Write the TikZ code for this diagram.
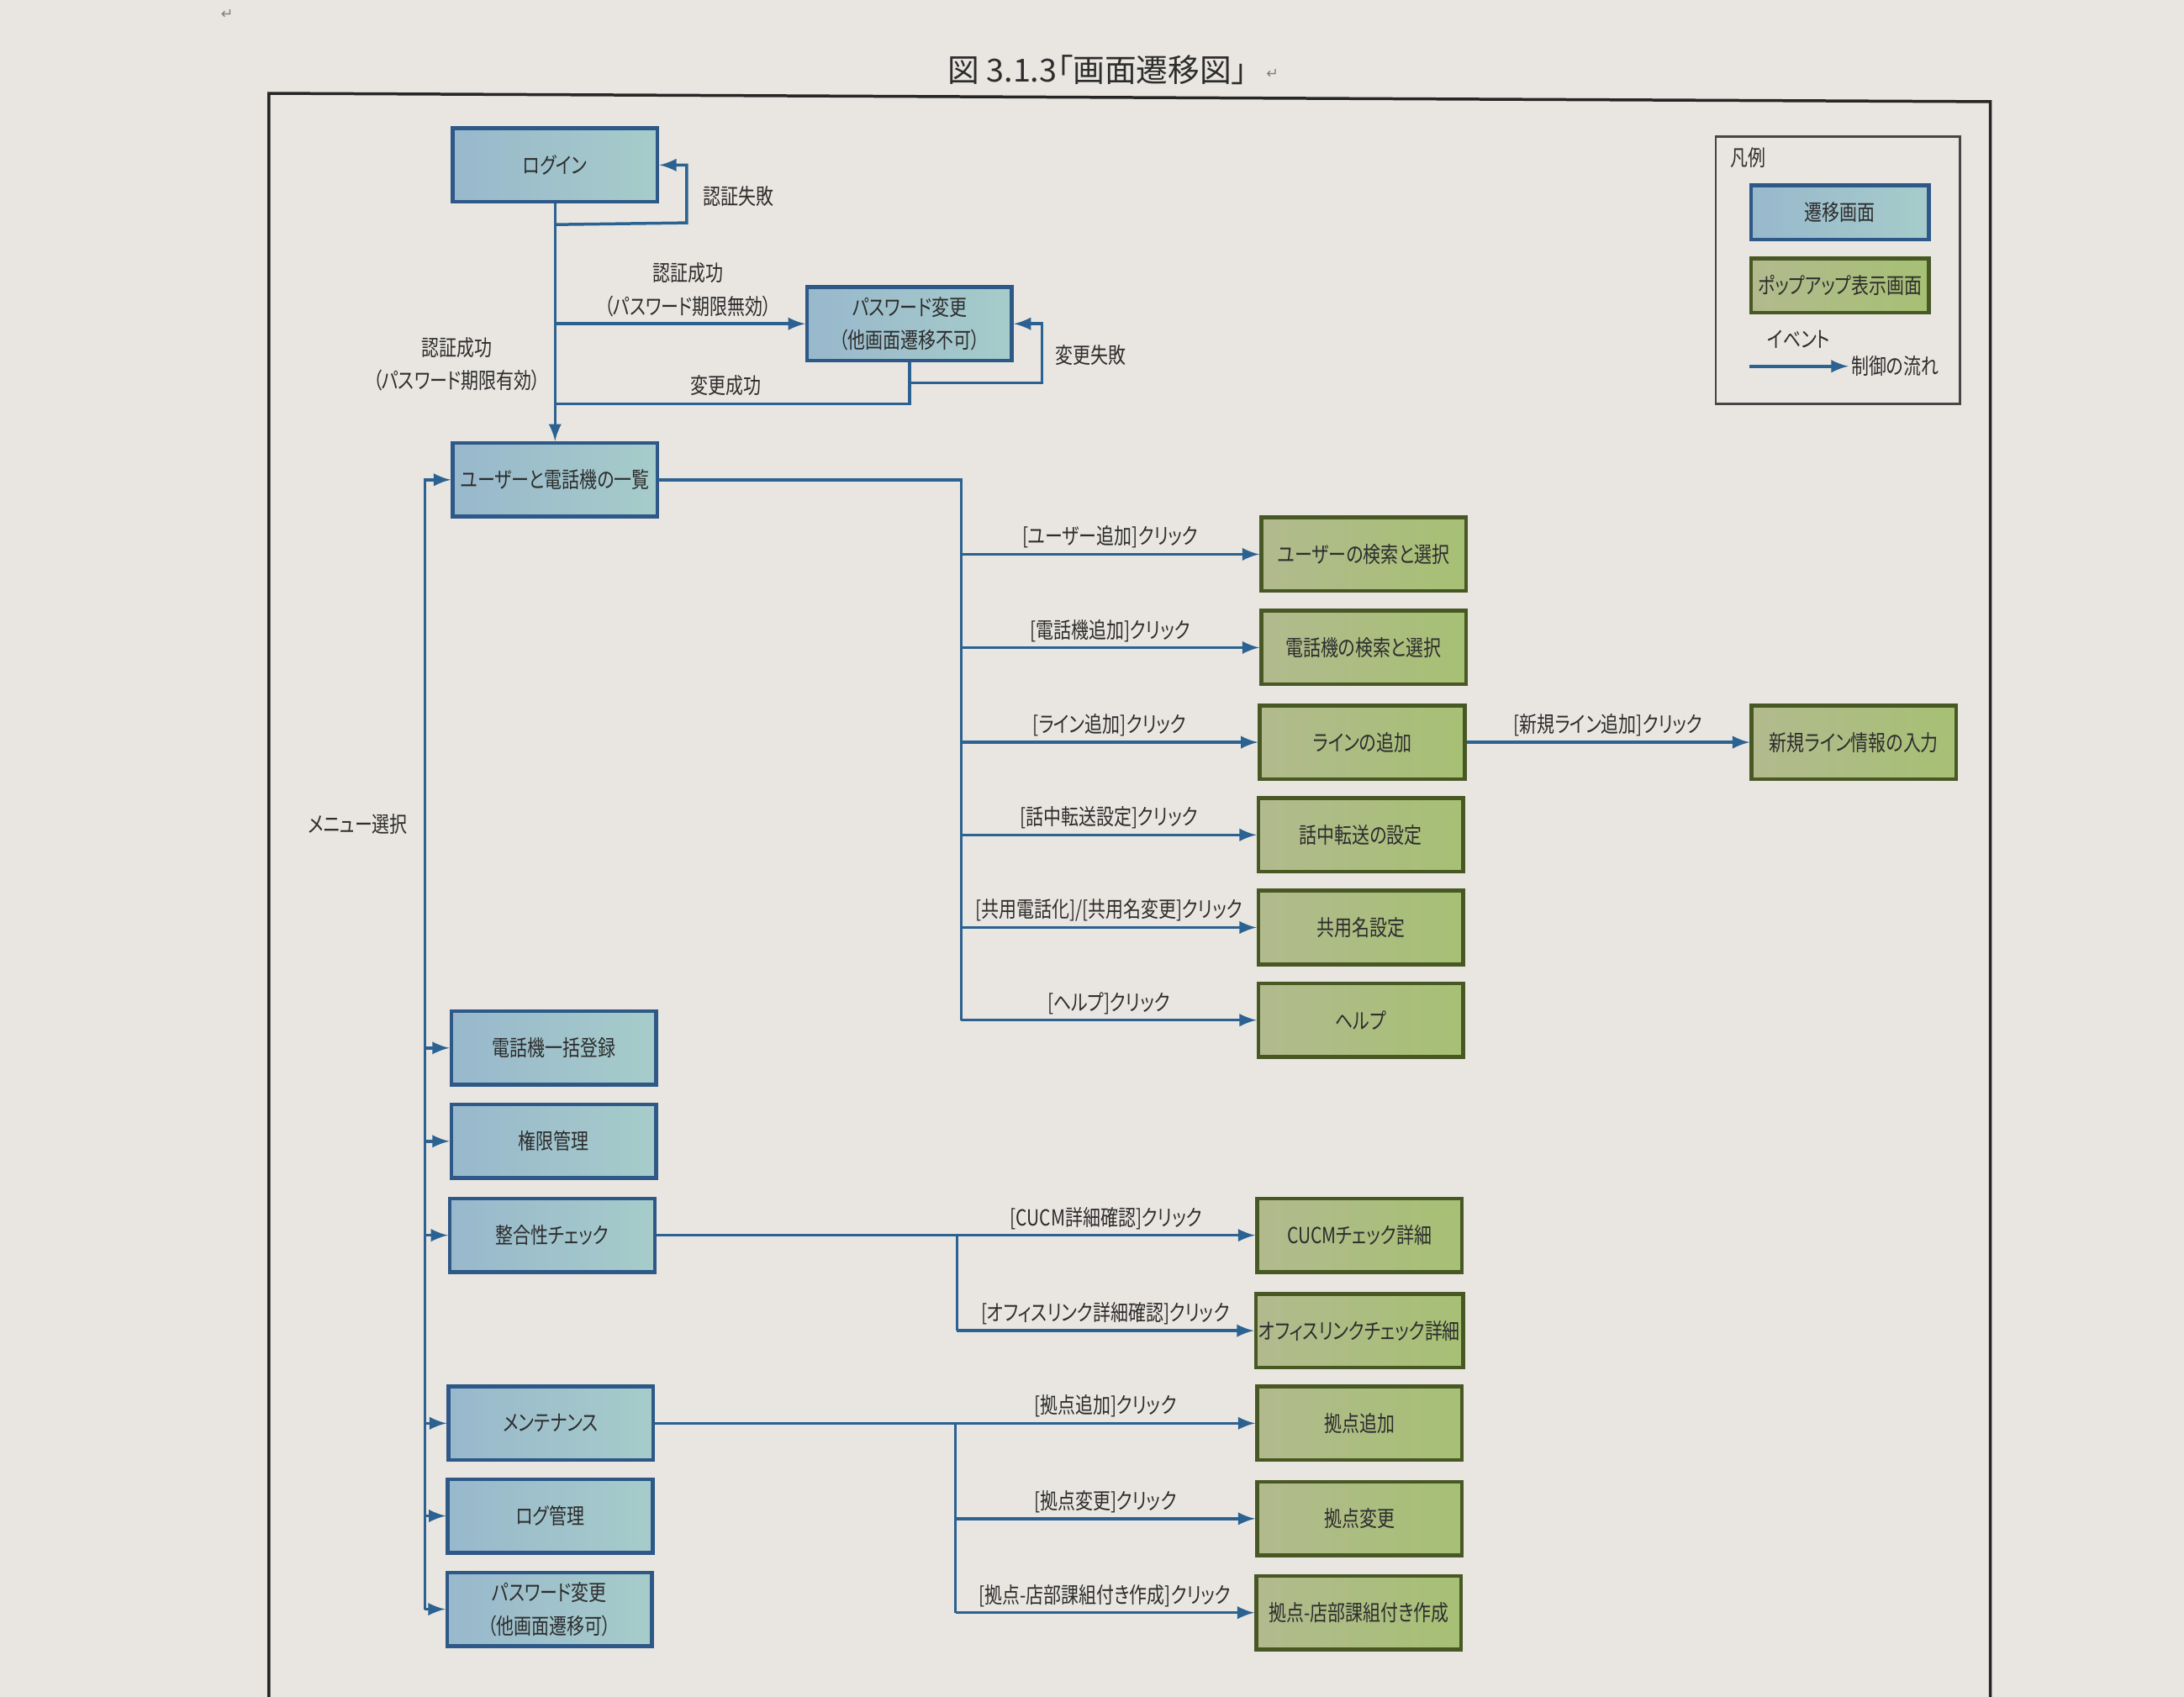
\documentclass[tikz,border=0pt]{standalone}
\usepackage{fontspec}
\setmainfont{Noto Sans CJK JP}[FakeStretch=0.8,CharacterWidth=AlternateProportional]
\newfontfamily\titlefont{Noto Sans CJK JP}[CharacterWidth=AlternateProportional]
\newfontfamily\symfont{DejaVu Sans}
\usetikzlibrary{positioning,arrows}

\definecolor{bgc}{RGB}{233,230,225}
\definecolor{ink}{RGB}{45,45,45}
\definecolor{scrline}{RGB}{45,88,135}
\definecolor{scrleft}{RGB}{152,184,204}
\definecolor{scrright}{RGB}{166,204,202}
\definecolor{popline}{RGB}{72,88,36}
\definecolor{popleft}{RGB}{178,186,142}
\definecolor{popright}{RGB}{166,192,116}
\definecolor{flowc}{RGB}{44,98,145}
\definecolor{legline}{RGB}{70,70,70}

\newcommand{\boxfont}{\fontsize{7.5}{11.3}\selectfont}

\begin{document}
\begin{tikzpicture}
  [x=0.016667cm, y=-0.016667cm, >=latex,
   screen/.style={draw=scrline, line width=1.3pt, left color=scrleft, right color=scrright,
     minimum width=2.45cm, minimum height=0.88cm, inner sep=1pt, align=center,
     text=ink, font=\boxfont},
   popup/.style={screen, draw=popline, left color=popleft, right color=popright},
   flow/.style={draw=flowc, line width=1pt},
   lbl/.style={text=ink, font=\boxfont, inner sep=1.5pt, align=center}]

\useasboundingbox (0,0) rectangle (1568,1218.5);
\clip (0,0) rectangle (1568,1218.5);
\fill[bgc] (0,0) rectangle (1568,1218.5);

% title and frame
\node[font=\titlefont\fontsize{10.8}{13}\selectfont, text=ink, inner sep=0pt] (title) at (788,50) {図 3.1.3「画面遷移図」};
\node[right=6pt of title, yshift=-1.5pt, inner sep=0pt, font=\symfont\fontsize{5}{6}\selectfont, text=gray] (titleret) {↵};
\node[font=\symfont\fontsize{5}{6}\selectfont, text=gray] (topret) at (163,10) {↵};
\draw[line width=1pt, black!85] (193,1240) -- (193,67) -- (1429,73) -- (1429,1240);

% screens
\node[screen] (login) at (398.5,118.5) {ログイン};
\node[screen] (pwfix) at (653,232.5) {パスワード変更\\（他画面遷移不可）};
\node[screen] (list) at (398.5,344.5) {ユーザーと電話機の一覧};
\node[screen] (bulkreg) at (397.5,752.5) {電話機一括登録};
\node[screen] (authmgr) at (397.5,819.5) {権限管理};
\node[screen] (check) at (396.5,887) {整合性チェック};
\node[screen] (maint) at (395.5,1022) {メンテナンス};
\node[screen] (logmgr) at (395,1088.5) {ログ管理};
\node[screen] (pwfree) at (394.5,1155.5) {パスワード変更\\（他画面遷移可）};

% popups
\node[popup] (usersel) at (979,398) {ユーザーの検索と選択};
\node[popup] (telsel) at (979,465) {電話機の検索と選択};
\node[popup] (lineadd) at (978,533) {ラインの追加};
\node[popup] (busyfwd) at (977,599.5) {話中転送の設定};
\node[popup] (sharename) at (977,666) {共用名設定};
\node[popup] (help) at (977,732.5) {ヘルプ};
\node[popup] (newline) at (1331,533) {新規ライン情報の入力};
\node[popup] (cucm) at (976,887) {CUCMチェック詳細};
\node[popup] (office) at (976,955.5) {オフィスリンクチェック詳細};
\node[popup] (siteadd) at (976,1022) {拠点追加};
\node[popup] (sitemod) at (976,1090.5) {拠点変更};
\node[popup] (sitemake) at (975.5,1158) {拠点-店部課組付き作成};

% login flow
\coordinate (failR) at (493,160);
\coordinate (chgJ) at (653,275);
\coordinate (chgR) at (748,275);
\coordinate (chgB) at (653,290);
\draw[flow,->] (login.south) -- (list.north);
\draw[flow,->] (login.south) ++(0,15) -- (failR) |- (login.east);
\draw[flow,->] (login.south |- pwfix.west) -- (pwfix.west);
\draw[flow] (pwfix.south) -- (chgB) -- (login.south |- chgB);
\draw[flow,->] (chgJ) -- (chgR) |- (pwfix.east);
\node[lbl] (lfail) at (530,141) {認証失敗};
\node[lbl] (lokfix) at (494,208) {認証成功\\（パスワード期限無効）};
\node[lbl] (lokfree) at (328,261.5) {認証成功\\（パスワード期限有効）};
\node[lbl] (lchgok) at (521,277) {変更成功};
\node[lbl] (lchgng) at (783,255) {変更失敗};

% list popups
\coordinate (listJ) at (690,344.5);
\draw[flow] (list.east) -- (listJ) -- (listJ |- help.west);
\draw[flow,->] (listJ |- usersel.west) -- node[lbl,above] {[ユーザー追加]クリック} (usersel.west);
\draw[flow,->] (listJ |- telsel.west) -- node[lbl,above] {[電話機追加]クリック} (telsel.west);
\draw[flow,->] (listJ |- lineadd.west) -- node[lbl,above] {[ライン追加]クリック} (lineadd.west);
\draw[flow,->] (listJ |- busyfwd.west) -- node[lbl,above] {[話中転送設定]クリック} (busyfwd.west);
\draw[flow,->] (listJ |- sharename.west) -- node[lbl,above] {[共用電話化]/[共用名変更]クリック} (sharename.west);
\draw[flow,->] (listJ |- help.west) -- node[lbl,above] {[ヘルプ]クリック} (help.west);
\draw[flow,->] (lineadd.east) -- node[lbl,above] {[新規ライン追加]クリック} (newline.west);

% menu
\coordinate (menuX) at (305,0);
\draw[flow,->] (menuX |- pwfree.west) -- (menuX |- list.west) -- (list.west);
\draw[flow,->] (menuX |- bulkreg.west) -- (bulkreg.west);
\draw[flow,->] (menuX |- authmgr.west) -- (authmgr.west);
\draw[flow,->] (menuX |- check.west) -- (check.west);
\draw[flow,->] (menuX |- maint.west) -- (maint.west);
\draw[flow,->] (menuX |- logmgr.west) -- (logmgr.west);
\draw[flow,->] (menuX |- pwfree.west) -- (pwfree.west);
\node[lbl] (lmenu) at (257,592) {メニュー選択};

% check popups
\coordinate (checkJ) at (687,887);
\draw[flow] (check.east) -- (checkJ) -- (checkJ |- office.west);
\draw[flow,->] (checkJ) -- node[lbl,above] {[CUCM詳細確認]クリック} (cucm.west);
\draw[flow,->] (checkJ |- office.west) -- node[lbl,above] {[オフィスリンク詳細確認]クリック} (office.west);

% maintenance popups
\coordinate (maintJ) at (686,1022);
\draw[flow] (maint.east) -- (maintJ) -- (maintJ |- sitemake.west);
\draw[flow,->] (maintJ) -- node[lbl,above] {[拠点追加]クリック} (siteadd.west);
\draw[flow,->] (maintJ |- sitemod.west) -- node[lbl,above] {[拠点変更]クリック} (sitemod.west);
\draw[flow,->] (maintJ |- sitemake.west) -- node[lbl,above] {[拠点-店部課組付き作成]クリック} (sitemake.west);

% legend
\node[draw=legline, line width=0.8pt, minimum width=2.92cm, minimum height=3.2cm] (legend) at (1319.5,194) {};
\node[lbl, anchor=west] (legtitle) at (1239,113) {凡例};
\node[screen, minimum width=2.13cm, minimum height=0.65cm] (legscr) at (1321,152.5) {遷移画面};
\node[popup, minimum width=2.13cm, minimum height=0.65cm] (legpop) at (1321,205) {ポップアップ表示画面};
\coordinate (legA) at (1256,263);
\coordinate (legB) at (1327,263);
\draw[flow,->] (legA) -- node[lbl,above=4pt] {イベント} (legB) node[lbl,right,inner sep=0.5pt] (legflow) {制御の流れ};
\end{tikzpicture}
\end{document}
